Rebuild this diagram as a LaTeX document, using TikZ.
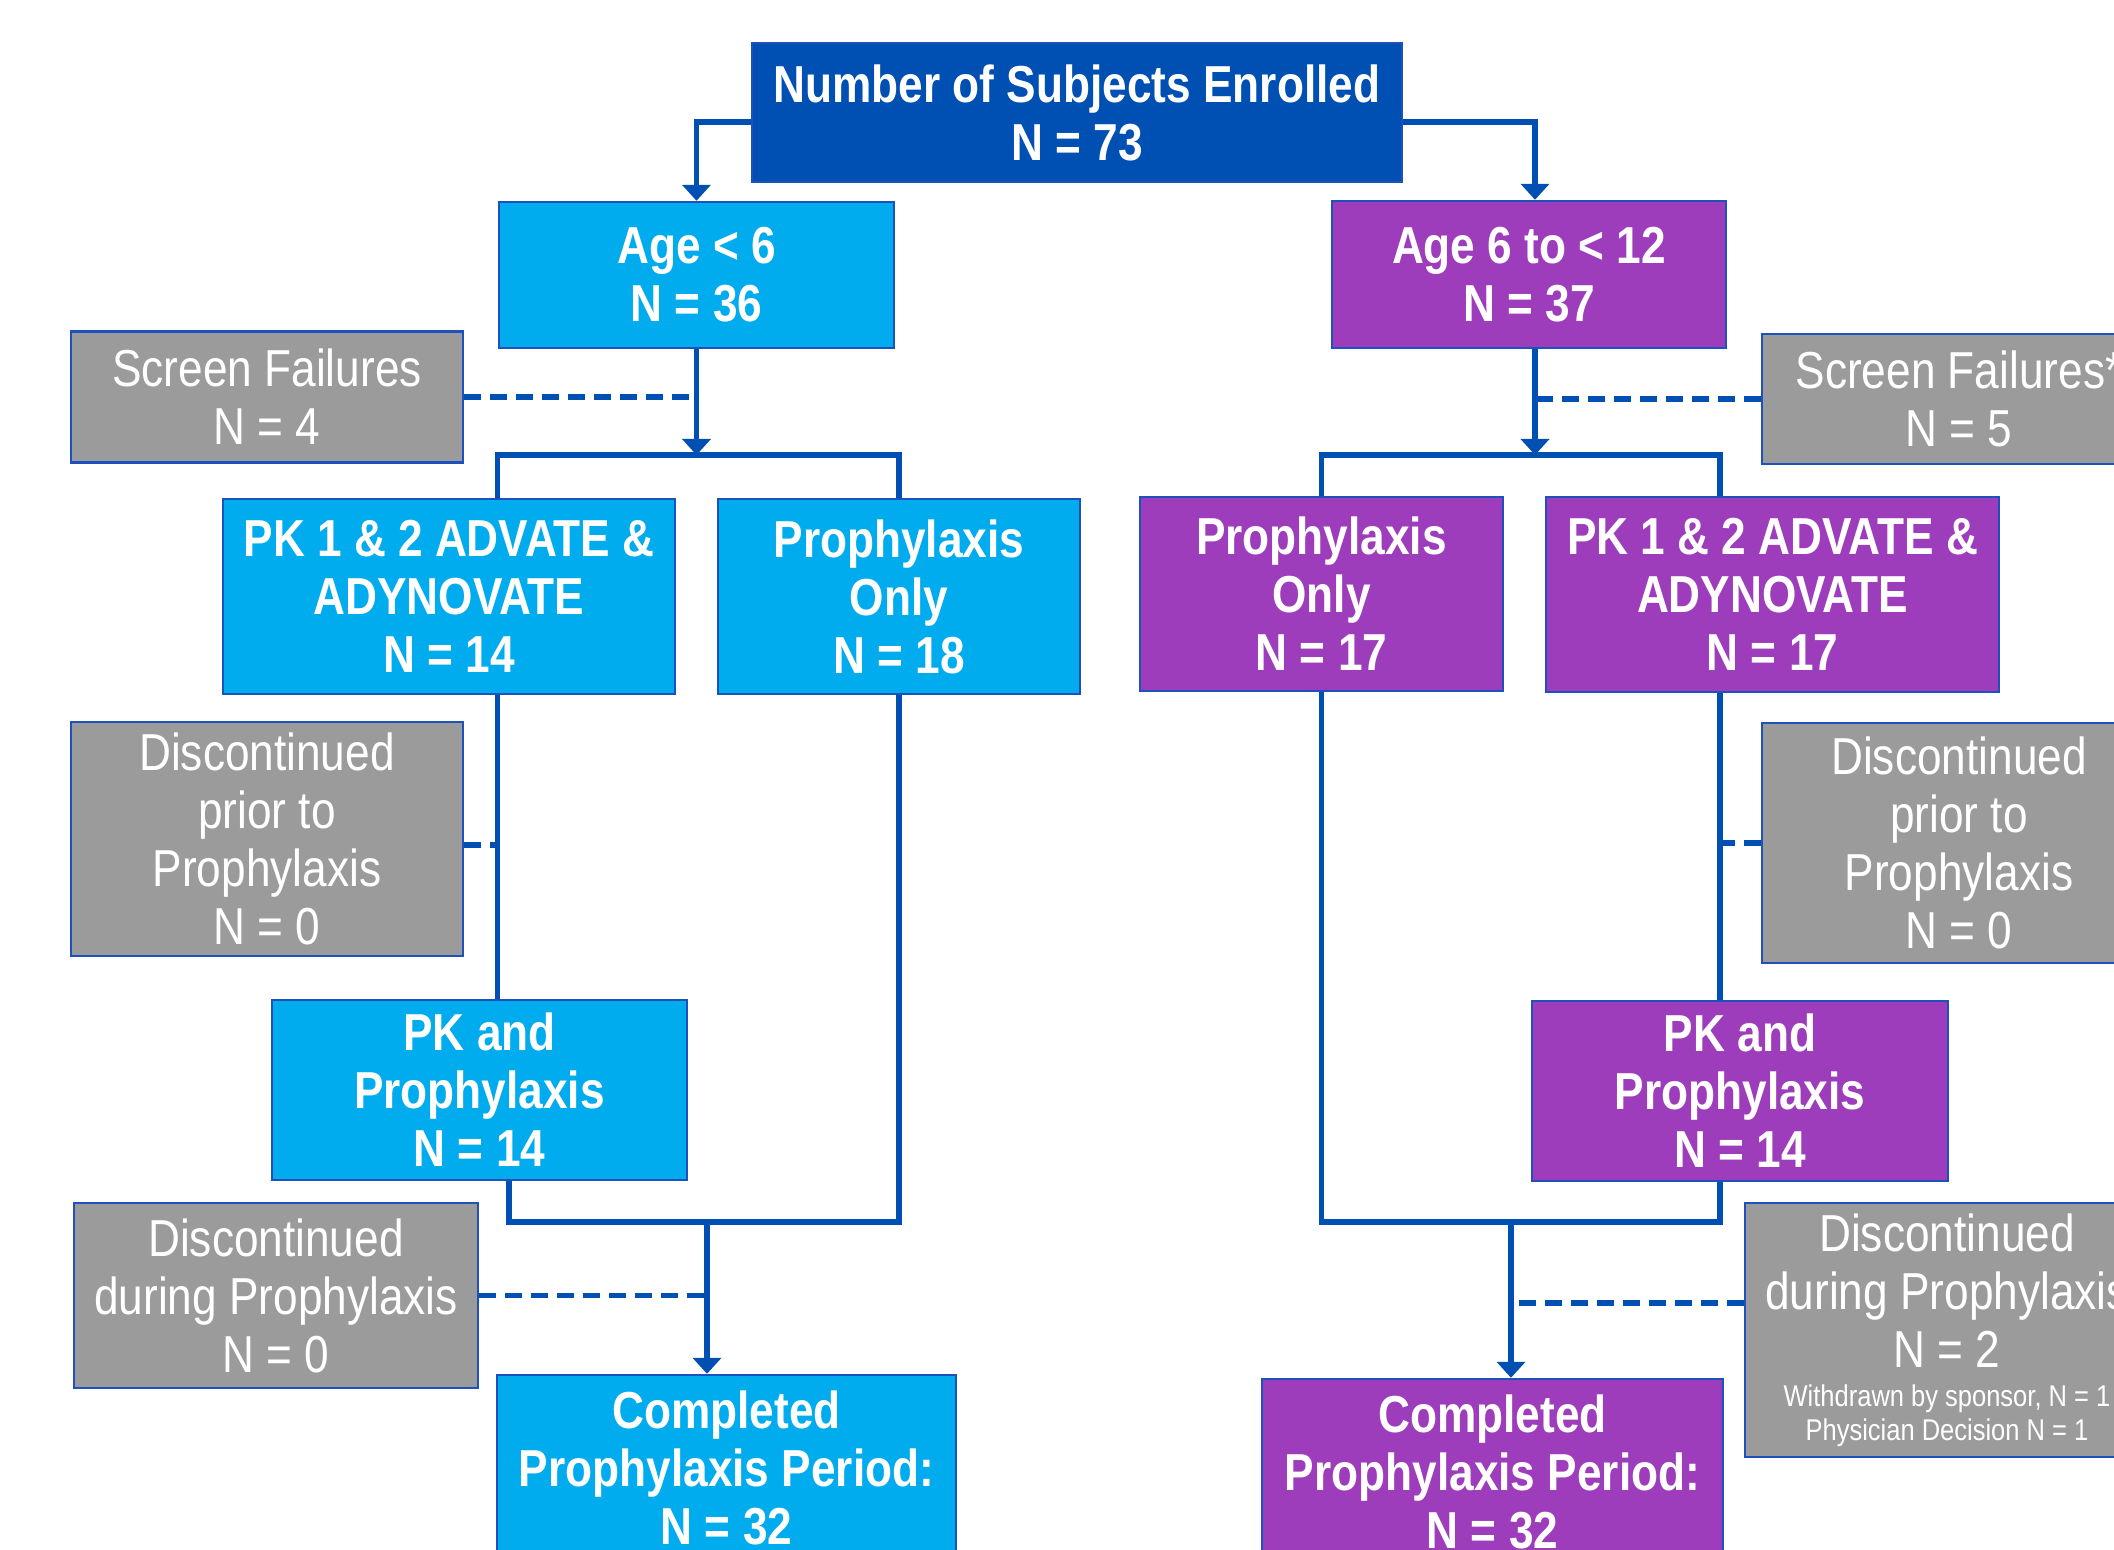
\documentclass[tikz,border=0pt]{standalone}
\usepackage{fontspec}
\setmainfont{Liberation Sans}[FakeStretch=0.85]
\usetikzlibrary{arrows.meta}
\definecolor{topblue}{RGB}{0,80,180}
\definecolor{lightblue}{RGB}{0,171,238}
\definecolor{violet}{RGB}{157,61,187}
\definecolor{grayfill}{RGB}{155,155,155}
\definecolor{boxline}{RGB}{30,80,190}
\definecolor{conncol}{RGB}{0,80,180}
\tikzset{
  box/.style={draw=boxline, line width=1.2pt, inner sep=0pt, align=center, text=white,
              font=\fontsize{26}{29}\selectfont},
  bbox/.style={box, font=\fontsize{26}{29}\selectfont\bfseries},
  conn/.style={draw=conncol, line width=2.6pt},
  arr/.style={conn, -{Triangle[length=8pt,width=14pt]}},
  dashline/.style={draw=conncol, line width=2.6pt, dash pattern=on 8.5pt off 4.5pt},
}
\begin{document}
\begin{tikzpicture}[x=0.5pt,y=-0.5pt]
\useasboundingbox (0,0) rectangle (2114,1550);
\clip (0,0) rectangle (2114,1550);
\fill[white] (0,0) rectangle (2114,1550);

% boxes
\node[bbox, fill=topblue, minimum width=325pt, minimum height=69.5pt] (top) at (1077,112.5) {Number of Subjects Enrolled\\N = 73};
\node[bbox, fill=lightblue, minimum width=197.5pt, minimum height=73pt] (a6) at (696.5,275) {Age < 6\\N = 36};
\node[bbox, fill=violet, minimum width=197pt, minimum height=73.5pt] (a12) at (1529,274.5) {Age 6 to < 12\\N = 37};
\node[box, fill=grayfill, minimum width=196pt, minimum height=65.5pt] (sf1) at (267,397) {Screen Failures\\N = 4};
\node[box, fill=grayfill, minimum width=197pt, minimum height=65pt] (sf2) at (1959,399) {Screen Failures*\\N = 5};
\node[bbox, fill=lightblue, minimum width=226pt, minimum height=97.5pt] (pk1) at (449,596.5) {PK 1 \& 2 ADVATE \&\\ADYNOVATE\\N = 14};
\node[bbox, fill=lightblue, minimum width=181pt, minimum height=97.5pt] (po1) at (899,596.5) {Prophylaxis\\Only\\N = 18};
\node[bbox, fill=violet, minimum width=181.5pt, minimum height=97pt] (po2) at (1321.5,594) {Prophylaxis\\Only\\N = 17};
\node[bbox, fill=violet, minimum width=226.5pt, minimum height=97.5pt] (pk2) at (1772.5,594.5) {PK 1 \& 2 ADVATE \&\\ADYNOVATE\\N = 17};
\node[box, fill=grayfill, minimum width=196pt, minimum height=117pt] (dp1) at (267,839) {Discontinued\\prior to\\Prophylaxis\\N = 0};
\node[box, fill=grayfill, minimum width=197pt, minimum height=120pt] (dp2) at (1959,843) {Discontinued\\prior to\\Prophylaxis\\N = 0};
\node[bbox, fill=lightblue, minimum width=207.5pt, minimum height=90pt] (pp1) at (479.5,1090) {PK and\\Prophylaxis\\N = 14};
\node[bbox, fill=violet, minimum width=208pt, minimum height=90pt] (pp2) at (1740,1091) {PK and\\Prophylaxis\\N = 14};
\node[box, fill=grayfill, minimum width=202pt, minimum height=92.5pt] (dd1) at (276,1295.5) {Discontinued\\during Prophylaxis\\N = 0};
\node[box, fill=grayfill, minimum width=202pt, minimum height=127pt] (dd2) at (1947,1330) {Discontinued\\during Prophylaxis\\N = 2\\[-9.5pt]{\fontsize{15}{17}\selectfont Withdrawn by sponsor, N = 1}\\[-12pt]{\fontsize{15}{17}\selectfont Physician Decision N = 1}};
\node[bbox, fill=lightblue, minimum width=229.5pt, minimum height=92.5pt] (c1) at (726.5,1467.5) {Completed\\Prophylaxis Period:\\N = 32};
\node[bbox, fill=violet, minimum width=230.5pt, minimum height=92.5pt] (c2) at (1492.5,1471.5) {Completed\\Prophylaxis Period:\\N = 32};

% junction coordinates
\coordinate (j1) at (696.5,455);
\coordinate (j2) at (1535,455);
\coordinate (r1) at (1720,455);
\coordinate (m1) at (707,1222);
\coordinate (m2) at (1511,1222);

% top split
\draw[arr] ([yshift=-4.75pt]top.west) -| (a6.north);
\draw[arr] ([yshift=-4.75pt]top.east) -| ([xshift=3pt]a12.north);

% left branch
\draw[arr] (a6.south) -- (j1);
\draw[conn] (a6.south west |- pk1.north) |- (j1) -| (po1.north);
\draw[dashline] (sf1.east) -- (sf1.east -| a6.south);
\draw[conn] (a6.south west |- pk1.south) -- (a6.south west |- pp1.north);
\draw[dashline] ([yshift=-3pt]dp1.east) -- ([yshift=-3pt]dp1.east -| a6.south west);
\draw[conn] ([xshift=14.75pt]pp1.south) |- (m1) -| (po1.south);
\draw[arr] (m1) -- (m1 |- c1.north);
\draw[dashline] (dd1.east) -- (dd1.east -| m1);

% right branch
\draw[arr] ([xshift=3pt]a12.south) -- (j2);
\draw[conn] (po2.north) |- (r1) -- (r1 |- pk2.north);
\draw[dashline] (sf2.west) -- (sf2.west -| j2);
\draw[conn] (r1 |- pk2.south) -- (r1 |- pp2.north);
\draw[dashline] (dp2.west) -- (dp2.west -| r1);
\draw[conn] (r1 |- pp2.south) |- (m2) -| (po2.south);
\draw[arr] (m2) -- (m2 |- c2.north);
\draw[dashline] ([yshift=13.5pt]dd2.west) -- ([yshift=13.5pt]dd2.west -| m2);
\end{tikzpicture}
\end{document}
